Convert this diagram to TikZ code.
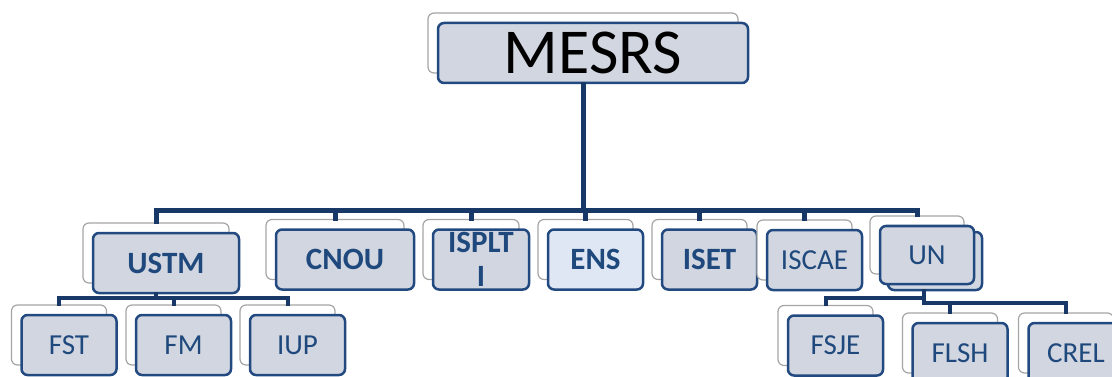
\documentclass[tikz,border=0pt]{standalone}
\usepackage{fontspec}
\setmainfont{Carlito}
\usetikzlibrary{shadows, positioning}
\definecolor{boxfill}{RGB}{209,214,224}
\definecolor{ensfill}{RGB}{222,231,243}
\definecolor{boxline}{RGB}{35,74,128}
\definecolor{boxtext}{RGB}{31,73,125}
\definecolor{linkcol}{RGB}{24,57,104}
\definecolor{backline}{RGB}{165,165,165}

\begin{document}
\begin{tikzpicture}[
    x=1pt, y=-1pt,
    backcopy/.style = {copy shadow={shadow xshift=-10pt, shadow yshift=10pt,
                fill=white, draw=backline, line width=1.2pt}},
    unit/.style = {draw=boxline, fill=boxfill, line width=2.5pt,
                rounded corners=6pt, minimum height=60pt, inner sep=0pt,
                text=boxtext, backcopy},
    head/.style = {unit, minimum width=310pt, text=black,
                font=\fontsize{64}{64}\selectfont},
    big/.style = {unit, font=\fontsize{31}{34}\selectfont\bfseries},
    small/.style = {unit, minimum width=95pt, font=\fontsize{29}{30}\selectfont},
    link/.style = {draw=linkcol, line width=5pt, line cap=rect},
    sublink/.style = {draw=linkcol, line width=4pt, line cap=rect}
                    ]
\useasboundingbox (0,0) rectangle (1112,377);

\node (mesrs) [head] at (593,53) {MESRS};

\node (ustm) [big, minimum width=146pt] at (166,263) {USTM};
\node (cnou) [big, minimum width=138pt] at (345,259.5) {CNOU};
\node (isplti) [big, minimum width=96pt, align=center] at (481,259.5) {ISPLT\\I};
\node (ens) [big, minimum width=95pt, fill=ensfill] at (595.5,259.5) {ENS};
\node (iset) [big, minimum width=95pt] at (709.5,259.5) {ISET};
\node (iscae) [small] at (814.5,260) {ISCAE};
\node (un) [small, minimum width=94pt, minimum height=58pt,
    copy shadow={shadow xshift=8pt, shadow yshift=-6pt, fill=boxfill,
    draw=boxline, line width=2.5pt}] at (927,255) {UN};

\node (fst) [small] at (69,345) {FST};
\node (fm) [small] at (183.5,345) {FM};
\node (iup) [small] at (297.5,345) {IUP};
\node (fsje) [small] at (835.5,345.5) {FSJE};
\node (flsh) [small] at (960,353) {FLSH};
\node (crel) [small] at (1076,353) {CREL};

% top level
\coordinate (busy) at (0,211);
\draw[link] ([xshift=-10pt]mesrs.south) -- ([xshift=-10pt]mesrs.south |- busy);
\draw[link] ([xshift=-10pt]ustm.north |- busy) -- ([xshift=-10pt]un.north |- busy);
\foreach \n in {ustm, cnou, isplti, ens, iset, iscae, un}
    \draw[link] ([xshift=-10pt]\n.north |- busy) -- ([shift={(-10pt,10pt)}]\n.north);

% USTM
\coordinate (ustmy) at (0,298);
\draw[sublink] ([xshift=-10pt]ustm.south) -- ([xshift=-10pt]ustm.south |- ustmy);
\draw[sublink] ([xshift=-10pt]fst.north |- ustmy) -- ([xshift=-10pt]iup.north |- ustmy);
\foreach \n in {fst, fm, iup}
    \draw[sublink] ([xshift=-10pt]\n.north |- ustmy) -- ([shift={(-10pt,10pt)}]\n.north);

% UN
\coordinate (unl) at (0,298);
\coordinate (unr) at (0,303);
\draw[sublink] ([shift={(-3pt,-6pt)}]un.south) -- ([xshift=-3pt]un.south |- unr)
    -- ([xshift=-10pt]crel.north |- unr) -- ([shift={(-10pt,10pt)}]crel.north);
\draw[sublink] ([xshift=-3pt]un.south |- unl) -- ([xshift=-10pt]fsje.north |- unl)
    -- ([shift={(-10pt,10pt)}]fsje.north);
\draw[sublink] ([xshift=-10pt]flsh.north |- unr) -- ([shift={(-10pt,10pt)}]flsh.north);

\end{tikzpicture}
\end{document}
